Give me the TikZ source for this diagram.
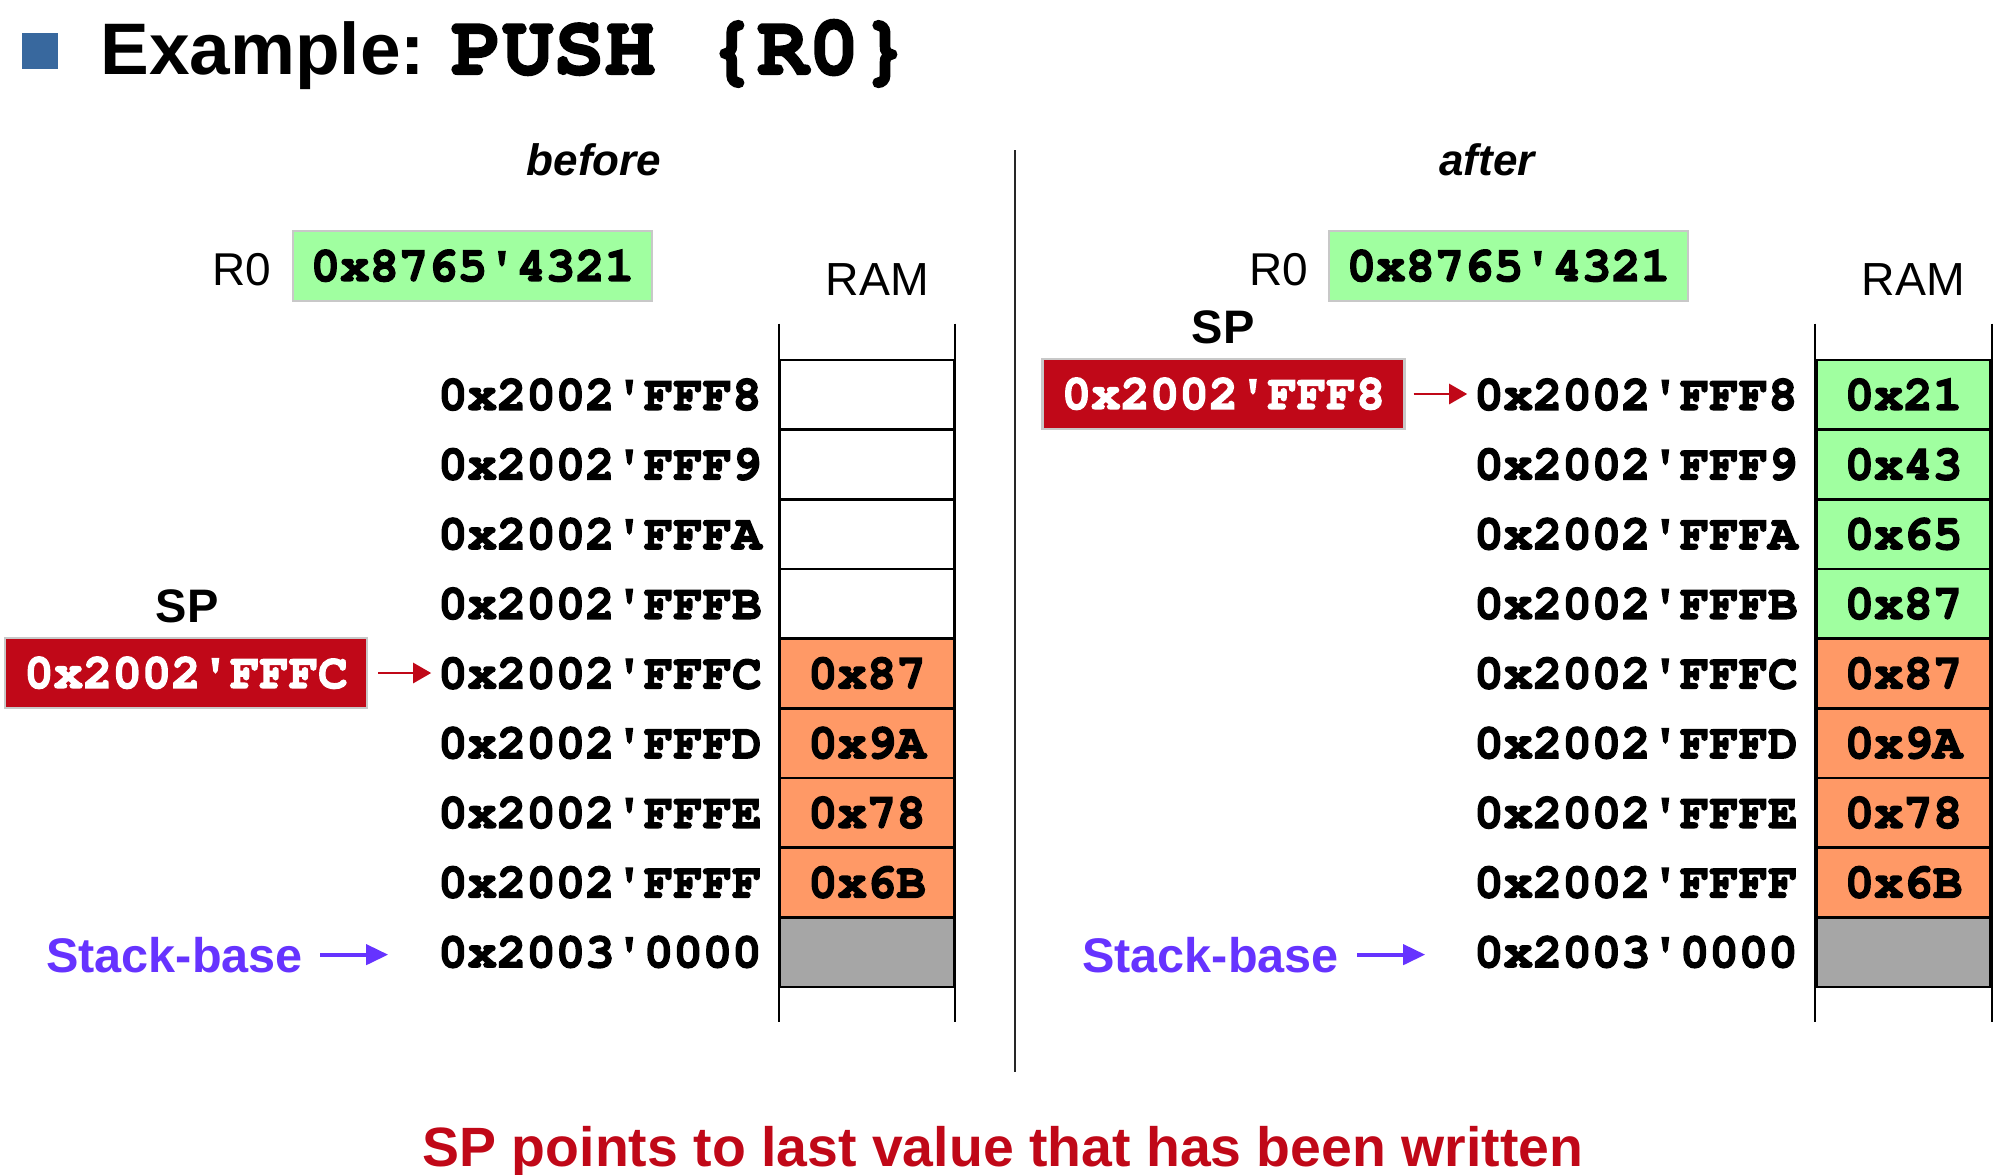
\documentclass[tikz,border=0pt]{standalone}
\usepackage[T1]{fontenc}
\usepackage{fontspec}
\setmainfont{Liberation Sans}
\setsansfont{Liberation Sans}
\usetikzlibrary{arrows.meta}
\newcommand\cour{\fontencoding{T1}\fontfamily{pcr}\fontseries{b}\fontshape{n}\selectfont}
\newcommand\myq{\textquotesingle}
\newcommand\heavyon[1]{\special{pdf:literal direct 2 Tr #1 w}}
\newcommand\heavyoff{\special{pdf:literal direct 0 Tr}}
\definecolor{sqblue}{RGB}{56,104,158}
\definecolor{regGreen}{RGB}{160,255,160}
\definecolor{cellOrange}{RGB}{255,153,102}
\definecolor{spRed}{RGB}{192,8,24}
\definecolor{baseGray}{RGB}{166,166,166}
\definecolor{basePurple}{RGB}{102,51,255}
\definecolor{boxBorder}{RGB}{200,200,200}
\tikzset{
  monofont/.style={font=\cour\fontsize{24.5}{29}\selectfont,
    execute at begin node=\heavyon{0.7}, execute at end node=\heavyoff},
  cell/.style={monofont, draw=black, line width=1.3pt, minimum width=87pt, minimum height=34.83pt, inner sep=0pt},
  addr/.style={monofont, anchor=east, inner sep=0pt},
  colline/.style={line width=1.1pt, draw=black},
  regbox/.style={monofont, fill=regGreen, draw=boxBorder, line width=1.2pt, minimum width=179.5pt, minimum height=35pt, inner sep=0pt},
  spbox/.style={monofont, text=white, fill=spRed, draw=boxBorder, line width=1.2pt, minimum width=181pt, minimum height=35pt, inner sep=0pt},
  lbl/.style={font=\sffamily\fontsize{23}{28}\selectfont, anchor=base, inner sep=0pt},
  boldlbl/.style={font=\sffamily\bfseries\fontsize{23.5}{28}\selectfont, anchor=base, inner sep=0pt},
  headlbl/.style={font=\sffamily\bfseries\itshape\fontsize{22}{26}\selectfont, anchor=base, inner sep=0pt},
  redarrow/.style={draw=spRed, line width=1.3pt, -{Triangle[length=9pt,width=10pt]}},
  purparrow/.style={draw=basePurple, line width=2pt, -{Triangle[length=11pt,width=10pt]}},
  divline/.style={line width=1.1pt, draw=black!85},
}
\begin{document}
\begin{tikzpicture}[x=0.5pt,y=-0.5pt]
\useasboundingbox (0,0) rectangle (2000,1174);
% title
\node[fill=sqblue, minimum size=18pt, inner sep=0pt] (bul) at (40,50.5) {};
\node[font=\sffamily\bfseries\fontsize{36.5}{44}\selectfont, anchor=base west, inner sep=0pt] (t1) at (100,74) {Example:};
\node[font=\cour\fontsize{42.5}{50}\selectfont, anchor=base west, inner sep=0pt,
  execute at begin node=\heavyon{1.1}, execute at end node=\heavyoff] (t2) at (451,74) {PUSH \{R0\}};
% headings
\node[headlbl] (before) at (594,175) {before};
\node[headlbl] (after) at (1487,175) {after};
% divider
\coordinate (dTop) at (1015,150);
\coordinate (dBot) at (1015,1072);
\draw[divline] (dTop) -- (dBot);
% registers
\node[lbl] (r0lL) at (242,285) {R0};
\node[regbox] (r0L) at (472.5,266) {0x8765\myq 4321};
\node[lbl] (r0lR) at (1279,285) {R0};
\node[regbox] (r0R) at (1508.5,266) {0x8765\myq 4321};
\node[lbl, font=\sffamily\fontsize{23.2}{28}\selectfont] (ramL) at (877.5,295) {RAM};
\node[lbl, font=\sffamily\fontsize{23.2}{28}\selectfont] (ramR) at (1913.5,295) {RAM};
% memory rows
\foreach \i/\ad/\lv/\lf/\rv/\rf in {
  0/0x2002\myq FFF8//white/0x21/regGreen,
  1/0x2002\myq FFF9//white/0x43/regGreen,
  2/0x2002\myq FFFA//white/0x65/regGreen,
  3/0x2002\myq FFFB//white/0x87/regGreen,
  4/0x2002\myq FFFC/0x87/cellOrange/0x87/cellOrange,
  5/0x2002\myq FFFD/0x9A/cellOrange/0x9A/cellOrange,
  6/0x2002\myq FFFE/0x78/cellOrange/0x78/cellOrange,
  7/0x2002\myq FFFF/0x6B/cellOrange/0x6B/cellOrange,
  8/0x2003\myq 0000//baseGray//baseGray}{
  \pgfmathsetmacro\yc{394.83+69.67*\i}
  \node[cell, fill=\lf] (cL\i) at (867,\yc) {\lv};
  \node[addr] (aL\i) at (762,\yc) {\ad};
  \node[cell, fill=\rf] (cR\i) at (1903.5,\yc) {\rv};
  \node[addr] (aR\i) at (1798,\yc) {\ad};
}
\draw[colline] ([yshift=17.5pt]cL0.north west) -- ([yshift=-17pt]cL8.south west);
\draw[colline] ([yshift=17.5pt]cL0.north east) -- ([yshift=-17pt]cL8.south east);
\draw[colline] ([yshift=17.5pt]cR0.north west) -- ([yshift=-17pt]cR8.south west);
\draw[colline] ([yshift=17.5pt]cR0.north east) -- ([yshift=-17pt]cR8.south east);
% stack pointers
\node[boldlbl] (spLl) at (187,622) {SP};
\node[spbox] (spL) at (186,673) {0x2002\myq FFFC};
\draw[redarrow] ([xshift=5pt]spL.east) -- ([xshift=-3.3pt]spL.east -| aL4.west);
\node[boldlbl] (spRl) at (1223,343) {SP};
\node[spbox] (spR) at (1223.5,394) {0x2002\myq FFF8};
\draw[redarrow] ([xshift=4pt]spR.east) -- ([xshift=-3.3pt]spR.east -| aR0.west);
% stack base
\node[boldlbl, font=\sffamily\bfseries\fontsize{24.3}{28}\selectfont, text=basePurple] (sbL) at (174.5,972) {Stack-base};
\draw[purparrow] ([xshift=8.6pt]sbL.east) -- ([xshift=-24.8pt]sbL.east -| aL8.west);
\node[boldlbl, font=\sffamily\bfseries\fontsize{24.3}{28}\selectfont, text=basePurple] (sbR) at (1210.5,972) {Stack-base};
\draw[purparrow] ([xshift=9.1pt]sbR.east) -- ([xshift=-24.3pt]sbR.east -| aR8.west);
% bottom note
\node[font=\sffamily\bfseries\fontsize{27.7}{34}\selectfont, text=spRed, anchor=base, inner sep=0pt] (note) at (1003,1166) {SP points to last value that has been written};
\end{tikzpicture}
\end{document}
